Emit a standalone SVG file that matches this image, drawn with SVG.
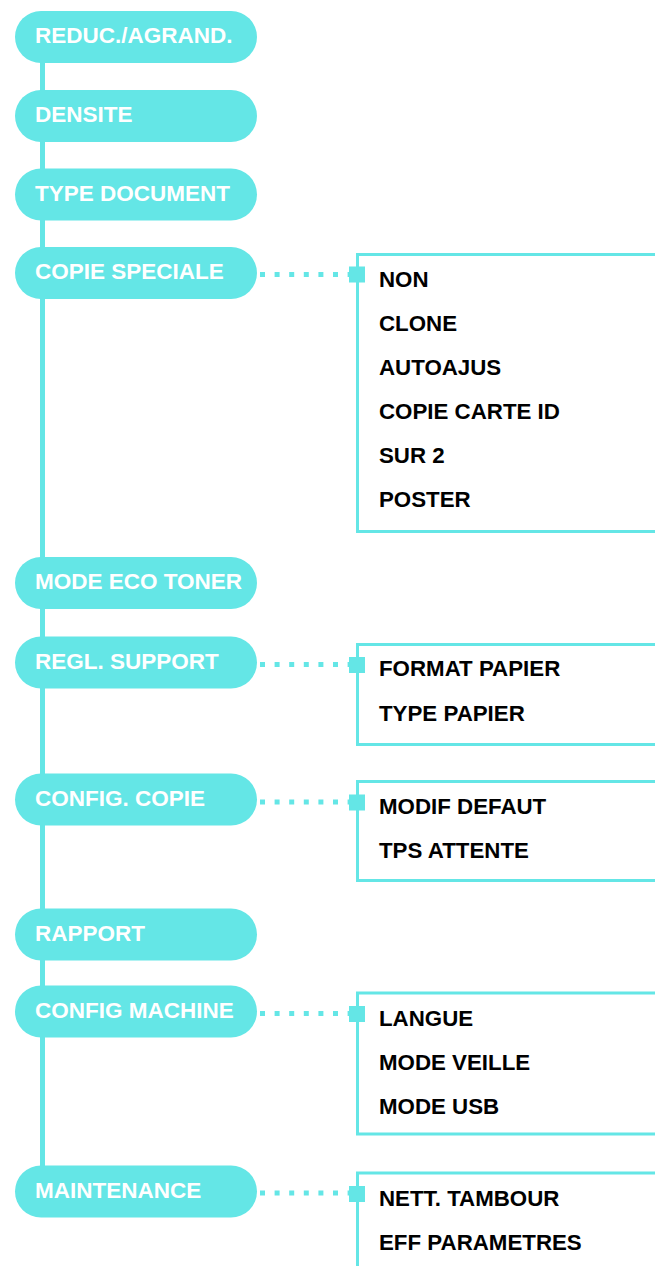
<svg xmlns="http://www.w3.org/2000/svg" width="655" height="1266" viewBox="0 0 655 1266">
<style>
.pill{fill:#64E6E6}
.pt{font-family:"Liberation Sans",Arial,sans-serif;font-weight:bold;font-size:22.5px;fill:#fff}
.it{font-family:"Liberation Sans",Arial,sans-serif;font-weight:bold;font-size:22.3px;fill:#000}
.box{fill:none;stroke:#64E6E6;stroke-width:3}
.sq{fill:#64E6E6}
.dot{stroke:#64E6E6;stroke-width:5;stroke-dasharray:5 9.6;fill:none}
.spine{stroke:#64E6E6;stroke-width:5;fill:none}
</style>
<rect width="655" height="1266" fill="#fff"/>
<g id="connectors">
<line class="spine" x1="42.5" y1="37" x2="42.5" y2="1191"/>
<line class="dot" x1="260" y1="274.5" x2="350" y2="274.5"/>
<line class="dot" x1="260" y1="664.5" x2="350" y2="664.5"/>
<line class="dot" x1="260" y1="802" x2="350" y2="802"/>
<line class="dot" x1="260" y1="1013.5" x2="350" y2="1013.5"/>
<line class="dot" x1="260" y1="1193" x2="350" y2="1193"/>
</g>
<g id="n-reduc"><rect class="pill" x="15" y="11" width="242" height="52" rx="26"/><text class="pt" x="35" y="43">REDUC./AGRAND.</text></g>
<g id="n-densite"><rect class="pill" x="15" y="90" width="242" height="52" rx="26"/><text class="pt" x="35" y="122">DENSITE</text></g>
<g id="n-type"><rect class="pill" x="15" y="168.5" width="242" height="52" rx="26"/><text class="pt" x="35" y="200.5">TYPE DOCUMENT</text></g>
<g id="n-copie"><rect class="pill" x="15" y="247" width="242" height="52" rx="26"/><text class="pt" x="35" y="279">COPIE SPECIALE</text></g>
<g id="n-eco"><rect class="pill" x="15" y="557" width="242" height="52" rx="26"/><text class="pt" x="35" y="589">MODE ECO TONER</text></g>
<g id="n-regl"><rect class="pill" x="15" y="636.5" width="242" height="52" rx="26"/><text class="pt" x="35" y="668.5">REGL. SUPPORT</text></g>
<g id="n-config-copie"><rect class="pill" x="15" y="773.5" width="242" height="52" rx="26"/><text class="pt" x="35" y="805.5">CONFIG. COPIE</text></g>
<g id="n-rapport"><rect class="pill" x="15" y="908.5" width="242" height="52" rx="26"/><text class="pt" x="35" y="940.5">RAPPORT</text></g>
<g id="n-config-machine"><rect class="pill" x="15" y="985.5" width="242" height="52" rx="26"/><text class="pt" x="35" y="1017.5">CONFIG MACHINE</text></g>
<g id="n-maint"><rect class="pill" x="15" y="1165.5" width="242" height="52" rx="26"/><text class="pt" x="35" y="1197.5">MAINTENANCE</text></g>
<g id="sub-copie">
<path class="box" d="M655 254.5H357.5V531.5H655"/>
<rect class="sq" x="349" y="266.5" width="16" height="16"/>
<text class="it" x="379" y="287">NON</text>
<text class="it" x="379" y="331">CLONE</text>
<text class="it" x="379" y="375">AUTOAJUS</text>
<text class="it" x="379" y="419">COPIE CARTE ID</text>
<text class="it" x="379" y="463">SUR 2</text>
<text class="it" x="379" y="507">POSTER</text>
</g>
<g id="sub-regl">
<path class="box" d="M655 644.5H357.5V744.5H655"/>
<rect class="sq" x="349" y="657" width="16" height="16"/>
<text class="it" x="379" y="676">FORMAT PAPIER</text>
<text class="it" x="379" y="721">TYPE PAPIER</text>
</g>
<g id="sub-config-copie">
<path class="box" d="M655 781.5H357.5V880.5H655"/>
<rect class="sq" x="349" y="794.5" width="16" height="16"/>
<text class="it" x="379" y="814">MODIF DEFAUT</text>
<text class="it" x="379" y="858">TPS ATTENTE</text>
</g>
<g id="sub-config-machine">
<path class="box" d="M655 993H357.5V1134H655"/>
<rect class="sq" x="349" y="1006" width="16" height="16"/>
<text class="it" x="379" y="1025.5">LANGUE</text>
<text class="it" x="379" y="1070">MODE VEILLE</text>
<text class="it" x="379" y="1113.5">MODE USB</text>
</g>
<g id="sub-maint">
<path class="box" d="M655 1173H357.5V1266"/>
<rect class="sq" x="349" y="1186" width="16" height="16"/>
<text class="it" x="379" y="1205.5">NETT. TAMBOUR</text>
<text class="it" x="379" y="1249.5">EFF PARAMETRES</text>
</g>
</svg>
